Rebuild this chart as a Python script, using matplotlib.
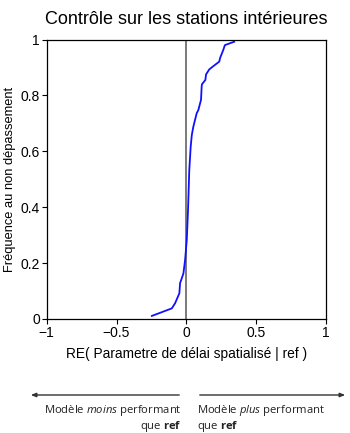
import numpy as np
import matplotlib
matplotlib.use("Agg")
import matplotlib.pyplot as plt

plt.rcParams['font.family'] = ['Liberation Sans', 'DejaVu Sans']
plt.rcParams['mathtext.fontset'] = 'custom'
plt.rcParams['mathtext.rm'] = 'Open Sans'
plt.rcParams['mathtext.it'] = 'Open Sans:italic'
plt.rcParams['mathtext.bf'] = 'Open Sans:bold'

# Empirical distribution of the relative efficiency at interior stations
re_values = [-0.247, -0.104, -0.081, -0.050, -0.045, -0.021, -0.009, 0.003,
             0.012, 0.021, 0.031, 0.039, 0.050, 0.074, 0.086, 0.105, 0.110,
             0.112, 0.136, 0.141, 0.164, 0.189, 0.236, 0.241, 0.264, 0.276,
             0.343]
freq_values = [0.011, 0.038, 0.056, 0.092, 0.128, 0.163, 0.211, 0.283,
               0.390, 0.533, 0.616, 0.658, 0.688, 0.736, 0.748, 0.784, 0.834,
               0.840, 0.855, 0.875, 0.893, 0.903, 0.921, 0.933, 0.962, 0.980,
               0.992]

x_ticks = [-1, -0.5, 0, 0.5, 1]
x_tick_labels = ["\u22121", "\u22120.5", "0", "0.5", "1"]
y_ticks = [0, 0.2, 0.4, 0.6, 0.8, 1]
y_tick_labels = ["0", "0.2", "0.4", "0.6", "0.8", "1"]

W, H = 350, 433
fig = plt.figure(figsize=(W / 100, H / 100), dpi=100)
ax = fig.add_axes([46.7 / W, 1 - 319 / H, (326 - 46.7) / W, (319 - 39.5) / H])

ax.axvline(0, color="#707070", lw=1.3, zorder=1)
ax.plot(re_values, freq_values, color="#1010ff", lw=1.3, zorder=2)

ax.set_xlim(-1, 1)
ax.set_ylim(0, 1)
ax.set_xticks(x_ticks)
ax.set_xticklabels(x_tick_labels)
ax.set_yticks(y_ticks)
ax.set_yticklabels(y_tick_labels)
ax.tick_params(direction="out", length=3.5, width=0.8, labelsize=10, pad=1.5,
               colors="black")
for s in ax.spines.values():
    s.set_linewidth(0.9)

ax.set_title("Contrôle sur les stations intérieures", fontsize=13, pad=11)
ax.set_xlabel("RE( Parametre de délai spatialisé | ref )", fontsize=9.9,
              labelpad=5)
ax.set_ylabel("Fréquence au non dépassement", fontsize=9.3, labelpad=3)

# Direction arrows beneath the axis
note_font = ['Open Sans', 'DejaVu Sans']
fig.patches.append(matplotlib.patches.FancyArrowPatch(
    (182 / W, 1 - 395 / H), (28 / W, 1 - 395 / H), transform=fig.transFigure,
    arrowstyle="-|>,head_length=3,head_width=1.2", color="#333333", lw=1.0))
fig.patches.append(matplotlib.patches.FancyArrowPatch(
    (197 / W, 1 - 395 / H), (348 / W, 1 - 395 / H), transform=fig.transFigure,
    arrowstyle="-|>,head_length=3,head_width=1.2", color="#333333", lw=1.0))

fs = 8.1
y1, y2 = 411, 426
fig.text(182 / W, 1 - y1 / H, r"Modèle $\it{moins}$ performant",
         ha="right", va="center", fontsize=fs, family=note_font, color="#222222")
fig.text(182 / W, 1 - y2 / H, r"que $\bf{ref}$", ha="right", va="center",
         fontsize=fs, family=note_font, color="#222222")
fig.text(197 / W, 1 - y1 / H, r"Modèle $\it{plus}$ performant",
         ha="left", va="center", fontsize=fs, family=note_font, color="#222222")
fig.text(197 / W, 1 - y2 / H, r"que $\bf{ref}$", ha="left", va="center",
         fontsize=fs, family=note_font, color="#222222")

fig.savefig("out.png", dpi=100)
